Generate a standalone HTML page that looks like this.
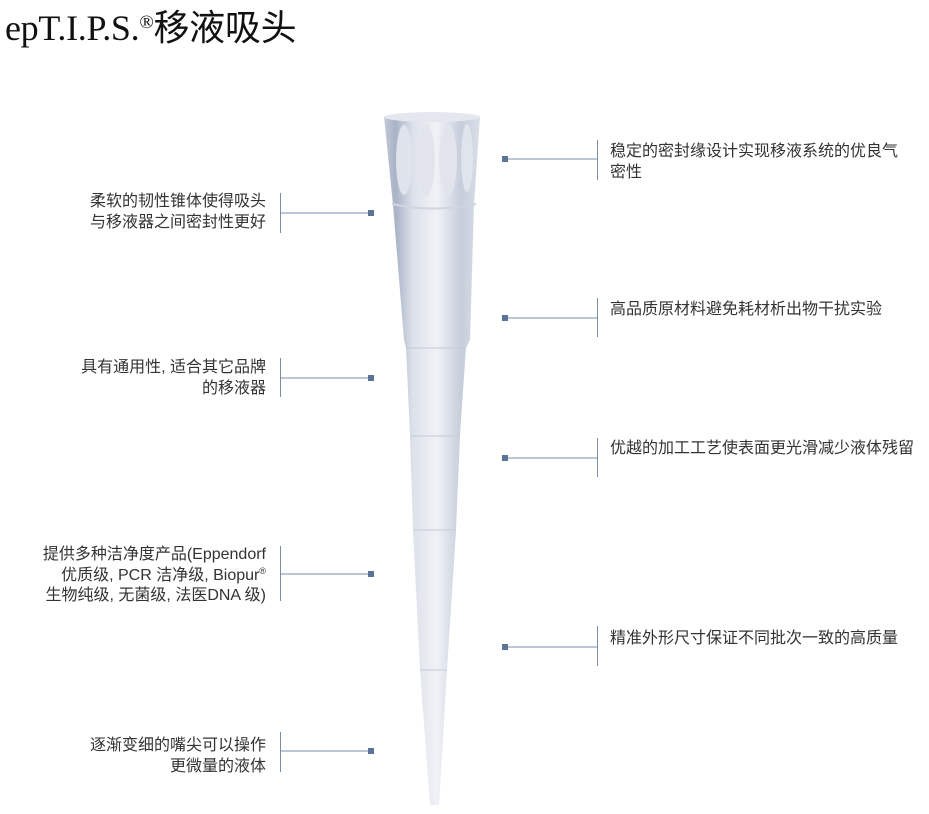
<!DOCTYPE html>
<html><head><meta charset="utf-8"><style>
body{margin:0;width:929px;height:814px;background:#fff;position:relative;overflow:hidden;font-family:"Liberation Sans","Noto Sans CJK SC",sans-serif;color:#333}
.t{position:absolute;font-size:16px;line-height:20.5px;white-space:nowrap}
.l{text-align:right;right:663px}
.r{left:610px}
sup{font-size:9px;line-height:0;vertical-align:6px}
h1{position:absolute;left:5px;top:3px;margin:0;font-family:"Liberation Serif","Noto Sans CJK SC",serif;font-weight:normal;font-size:36px;line-height:50px;color:#111;letter-spacing:-0.3px}
</style></head><body>
<h1>epT.I.P.S.<span style="font-size:19px;vertical-align:12px;line-height:0">®</span>移液吸头</h1>
<svg width="929" height="814" style="position:absolute;left:0;top:0">
<defs>
<linearGradient id="g" x1="0" x2="1">
<stop offset="0" stop-color="#c3c9d6"/><stop offset="0.12" stop-color="#a9b3c7"/><stop offset="0.3" stop-color="#dde1ea"/><stop offset="0.55" stop-color="#f0f2f6"/><stop offset="0.8" stop-color="#c6cedb"/><stop offset="1" stop-color="#d9dee7"/>
</linearGradient>
</defs>
<polygon fill="url(#g)" points="384,116 480,116 474,205 470,340 466,348 460,435 456,530 447,670 439,805 430,805 420,670 413,530 410,435 406,348 404,340 393,205"/>
<ellipse cx="432" cy="117" rx="48" ry="5" fill="#e4e7ee"/>
<g fill="#e2e5ec" opacity="0.95">
<ellipse cx="404" cy="160" rx="8" ry="35"/><ellipse cx="426" cy="160" rx="9" ry="36"/><ellipse cx="448" cy="160" rx="9" ry="36"/><ellipse cx="467" cy="158" rx="6" ry="34"/>
</g>
<path d="M392,204 Q432,213 476,204" stroke="#d0d5df" stroke-width="2" fill="none"/>
<g stroke="#c4cad6" stroke-width="1"><path d="M406,348H466M411,436H460M414,530H456M420,670H447"/></g>
<g stroke="#7b8ea8" stroke-width="1" fill="none">
<path d="M280.5,193V233M280,213H370"/>
<path d="M280.5,358V397M280,378H370"/>
<path d="M280.5,546V601M280,574H370"/>
<path d="M280.5,732V772M280,751H370"/>
<path d="M597.5,140V180M508,159H597"/>
<path d="M597.5,298V337M508,318H597"/>
<path d="M597.5,438V477M508,458H597"/>
<path d="M597.5,626V666M508,647H597"/>
</g>
<g fill="#5a7396">
<rect x="368" y="210" width="6" height="6"/><rect x="368" y="375" width="6" height="6"/><rect x="368" y="571" width="6" height="6"/><rect x="368" y="748" width="6" height="6"/>
<rect x="502" y="156" width="6" height="6"/><rect x="502" y="315" width="6" height="6"/><rect x="502" y="455" width="6" height="6"/><rect x="502" y="644" width="6" height="6"/>
</g>
</svg>
<div class="t l" style="top:192px">柔软的韧性锥体使得吸头<br>与移液器之间密封性更好</div>
<div class="t l" style="top:358px">具有通用性, 适合其它品牌<br>的移液器</div>
<div class="t l" style="top:545px">提供多种洁净度产品(Eppendorf<br>优质级, PCR 洁净级, Biopur<sup>®</sup><br>生物纯级, 无菌级, 法医DNA 级)</div>
<div class="t l" style="top:736px">逐渐变细的嘴尖可以操作<br>更微量的液体</div>
<div class="t r" style="top:142px">稳定的密封缘设计实现移液系统的优良气<br>密性</div>
<div class="t r" style="top:300px">高品质原材料避免耗材析出物干扰实验</div>
<div class="t r" style="top:439px">优越的加工工艺使表面更光滑减少液体残留</div>
<div class="t r" style="top:629px">精准外形尺寸保证不同批次一致的高质量</div>
</body></html>
